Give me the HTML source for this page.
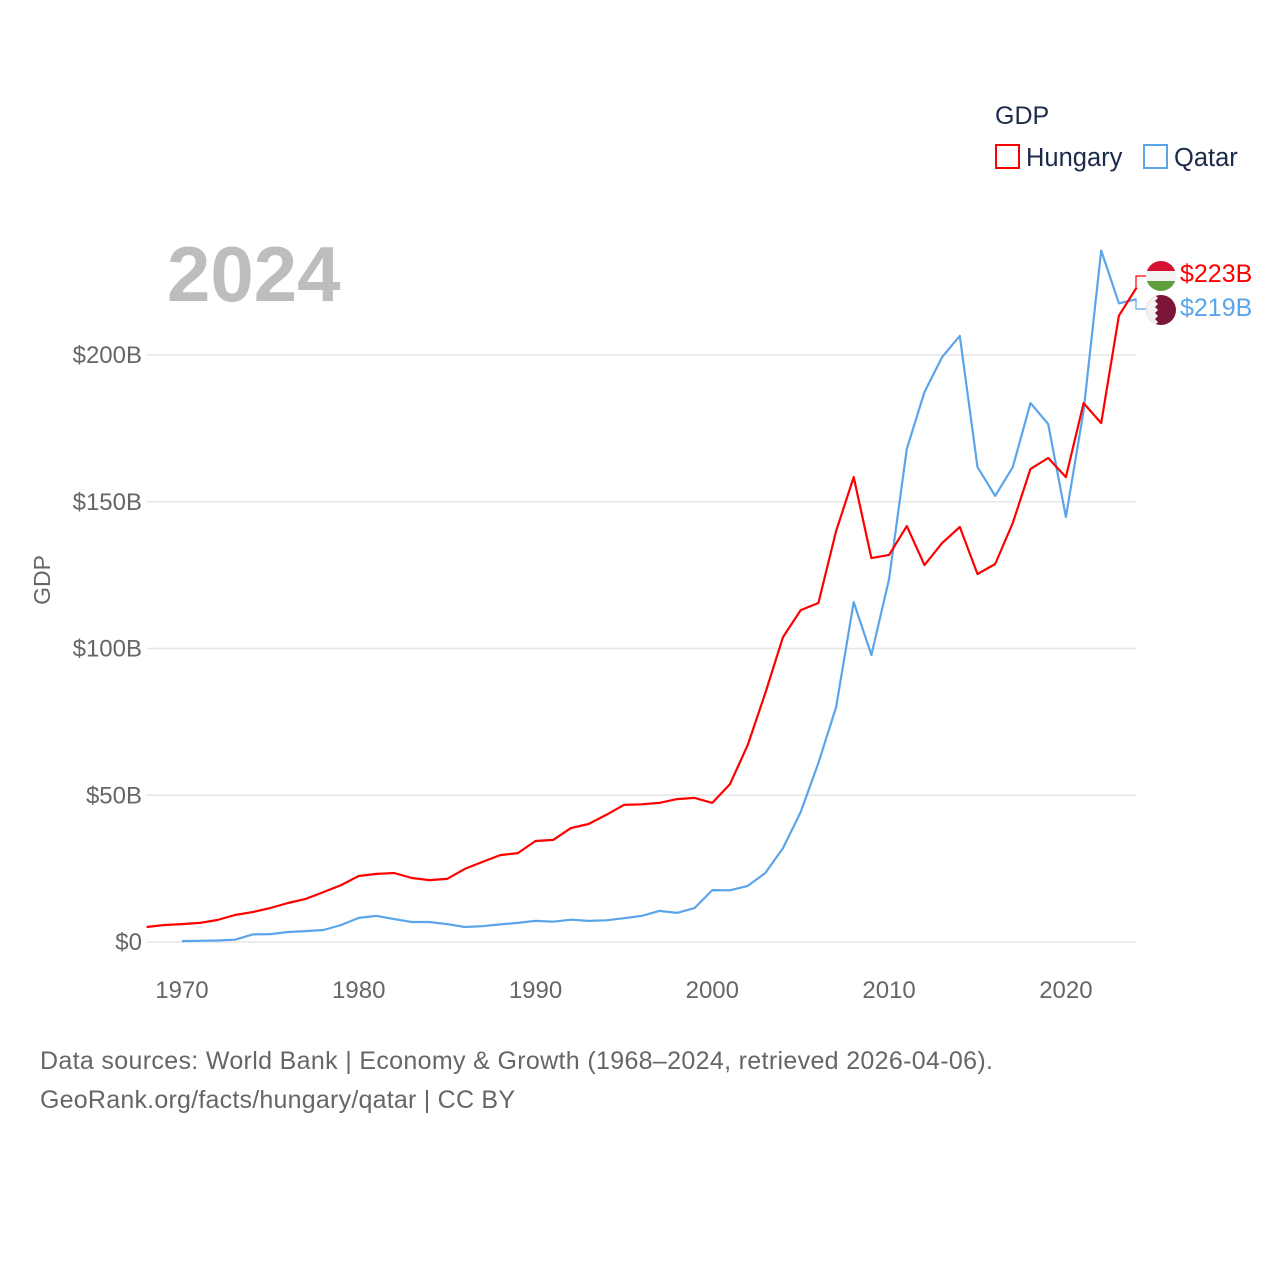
<!DOCTYPE html>
<html><head><meta charset="utf-8"><style>
html,body{margin:0;padding:0;background:#fff;}
svg{display:block;font-family:"Liberation Sans",sans-serif;}
</style></head><body>
<svg id="chart" width="1280" height="1280" viewBox="0 0 1280 1280">
  <text x="167" y="301" font-size="78" font-weight="bold" fill="#bdbdbd">2024</text>
  <g>
    <text x="995" y="124" font-size="25" fill="#1d2b4a">GDP</text>
    <g>
      <rect x="996" y="145" width="23" height="23" fill="none" stroke="#ff0000" stroke-width="2"/>
      <text x="1026" y="166" font-size="25.5" fill="#1d2b4a">Hungary</text>
    </g>
    <g>
      <rect x="1144" y="145" width="23" height="23" fill="none" stroke="#5aa5ea" stroke-width="2"/>
      <text x="1174" y="166" font-size="25.5" fill="#1d2b4a">Qatar</text>
    </g>
  </g>
  <text transform="translate(50,580) rotate(-90)" text-anchor="middle" font-size="23" fill="#666">GDP</text>
  <g id="grid"></g>
  <g id="lines"></g>
  <g id="endlabels"></g>
  <text x="40" y="1069" textLength="953" font-size="25" fill="#666">Data sources: World Bank | Economy &amp; Growth (1968–2024, retrieved 2026-04-06).</text>
  <text x="40" y="1108" textLength="475" font-size="25" fill="#666">GeoRank.org/facts/hungary/qatar | CC BY</text>
</svg>
<script>
const yTicks = [0, 50, 100, 150, 200];
const yTickLabels = ["$0", "$50B", "$100B", "$150B", "$200B"];
const xTicks = [1970, 1980, 1990, 2000, 2010, 2020];
const hungaryStart = 1968;
const hungary = [5.1,5.8,6.1,6.5,7.5,9.2,10.2,11.6,13.3,14.7,17.0,19.4,22.5,23.2,23.5,21.8,21.1,21.5,24.9,27.3,29.6,30.3,34.4,34.8,38.8,40.2,43.3,46.7,46.9,47.4,48.7,49.1,47.4,53.8,67.1,84.8,103.9,113.1,115.5,140.0,158.4,130.8,131.9,141.7,128.4,135.9,141.4,125.4,128.8,142.8,161.2,164.9,158.4,183.6,176.8,213.4,223.0];
const qatarStart = 1970;
const qatar = [0.3,0.4,0.5,0.8,2.6,2.7,3.4,3.7,4.1,5.8,8.2,8.9,7.8,6.8,6.8,6.1,5.1,5.4,6.0,6.5,7.2,6.9,7.6,7.2,7.4,8.1,8.9,10.6,9.9,11.6,17.7,17.6,19.1,23.5,32.0,44.3,61.0,80.0,115.8,97.8,123.7,168.0,187.4,199.3,206.5,161.8,152.0,161.8,183.6,176.5,144.8,181.0,235.6,217.6,219.0];
const endLabels = ["$223B", "$219B"];

const NS = "http://www.w3.org/2000/svg";
const X0 = 146.6, X1 = 1136.6, Y0 = 942, PER = 587/200;
const xs = yr => X0 + (yr - 1968) * (X1 - X0) / 56;
const ys = v => Y0 - v * PER;
function mk(tag, attrs, parent){ const e=document.createElementNS(NS,tag); for(const k in attrs) e.setAttribute(k,attrs[k]); parent.appendChild(e); return e; }

const grid = document.getElementById('grid');
yTicks.forEach((t,i)=>{
  const l = mk('line',{x1:147,x2:1136,y1:ys(t),y2:ys(t),stroke:'#e6e6e6','stroke-width':1.5},grid);
  
  
  const tx = mk('text',{x:142,y:ys(t)+8,'text-anchor':'end','font-size':24,fill:'#666'},grid);
  tx.textContent = yTickLabels[i];
  
  
});
xTicks.forEach(t=>{
  const tx = mk('text',{x:xs(t),y:998,'text-anchor':'middle','font-size':24,fill:'#666'},grid);
  tx.textContent = t;
  
  
});
const lines = document.getElementById('lines');
function drawLine(arr,start,color,name){
  const d = arr.map((v,i)=>(i?'L':'M')+xs(start+i).toFixed(1)+','+ys(v).toFixed(1)).join('');
  const p = mk('path',{d:d,fill:'none',stroke:color,'stroke-width':2.2,'stroke-linejoin':'round'},lines);
  
  
}
drawLine(qatar,qatarStart,'#5aa5ea','qatar-line');
drawLine(hungary,hungaryStart,'#ff0000','hungary-line');

const el = document.getElementById('endlabels');
const hy = ys(hungary[hungary.length-1]), qy = ys(qatar[qatar.length-1]);
const hl = mk('path',{d:`M1136,${hy} L1136,276 L1146,276`,fill:'none',stroke:'#ff0000','stroke-width':1.2},el);


const ql = mk('path',{d:`M1136,${qy} L1136,309 L1146,309`,fill:'none',stroke:'#5aa5ea','stroke-width':1.2},el);


const hf = mk('g',{},el);


const hc = mk('clipPath',{id:'cH'},hf);
mk('circle',{cx:1161,cy:276,r:15},hc);
const hg = mk('g',{'clip-path':'url(#cH)'},hf);
mk('rect',{x:1146,y:261,width:30,height:10,fill:'#d6102f'},hg);
mk('rect',{x:1146,y:271,width:30,height:10,fill:'#f2f2f2'},hg);
mk('rect',{x:1146,y:281,width:30,height:10,fill:'#5f9e3c'},hg);
const qf = mk('g',{},el);


const qc = mk('clipPath',{id:'cQ'},qf);
mk('circle',{cx:1161,cy:310,r:15},qc);
const qg = mk('g',{'clip-path':'url(#cQ)'},qf);
mk('rect',{x:1146,y:295,width:30,height:30,fill:'#7a1538'},qg);
mk('path',{d:'M1146,295 L1155,295 L1158,298 L1155,301 L1158,304 L1155,307 L1158,310 L1155,313 L1158,316 L1155,319 L1158,322 L1155,325 L1146,325 Z',fill:'#f2f2f2'},qg);
const t1 = mk('text',{x:1180,y:282,'font-size':25,fill:'#ff0000'},el);
t1.textContent = endLabels[0];


const t2 = mk('text',{x:1180,y:316,'font-size':25,fill:'#5aa5ea'},el);
t2.textContent = endLabels[1];


</script>
</body></html>
